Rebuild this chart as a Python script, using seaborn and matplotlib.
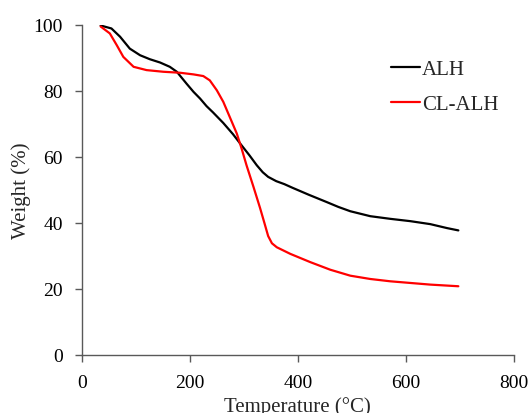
import matplotlib.pyplot as plt
import seaborn as sns
import pandas as pd
import numpy as np

# TGA curves
alh_temp = [35, 55, 71, 89, 108, 126, 145, 163, 176, 194, 207, 219, 231, 243, 262, 280, 296, 310, 324,
            335, 345, 360, 375, 390, 420, 453, 475, 497, 534, 571, 608, 645, 676, 697]
alh_weight = [99.7, 98.8, 96.3, 92.7, 90.7, 89.5, 88.5, 87.2, 85.7, 82.1, 79.6, 77.6, 75.3, 73.4, 70.2, 66.8, 63.4, 60.5, 57.4,
              55.3, 53.9, 52.6, 51.7, 50.6, 48.5, 46.3, 44.8, 43.5, 42.0, 41.2, 40.5, 39.6, 38.4, 37.7]

cl_temp = [35, 52, 65, 77, 96, 120, 151, 182, 207, 225, 237, 250, 262, 274, 287, 296, 305, 318,
           330, 338, 345, 352, 361, 386, 423, 460, 497, 534, 571, 608, 645, 697]
cl_weight = [99.4, 97.3, 93.7, 90.2, 87.2, 86.2, 85.7, 85.4, 84.9, 84.4, 83.1, 80.1, 76.6, 72.0, 67.0, 62.4, 57.4, 50.8,
             44.5, 40.0, 36.0, 33.8, 32.6, 30.6, 28.1, 25.8, 24.0, 23.0, 22.3, 21.8, 21.3, 20.8]

df = pd.concat([
    pd.DataFrame({"temp": alh_temp, "weight": alh_weight, "sample": "ALH"}),
    pd.DataFrame({"temp": cl_temp, "weight": cl_weight, "sample": "CL-ALH"}),
])

sns.set_style("ticks")
plt.rcParams['font.family'] = ['Liberation Serif', 'DejaVu Serif']

fig = plt.figure(figsize=(5.31, 4.14), dpi=100)
ax = fig.add_axes([0.1539, 0.1401, 0.8141, 0.7983])

sns.lineplot(data=df, x="temp", y="weight", hue="sample", sort=False,
             palette={"ALH": "black", "CL-ALH": "#ff0000"}, linewidth=1.6, ax=ax)

ax.set_xlim(0, 800)
ax.set_ylim(0, 100)
ax.set_xticks([0, 200, 400, 600, 800])
ax.set_yticks([0, 20, 40, 60, 80, 100])
ax.tick_params(labelsize=14, colors="black", length=5, width=1, color="#595959", pad=8.5)
for s in ["left", "bottom"]:
    ax.spines[s].set_color("#595959")
    ax.spines[s].set_linewidth(1)
sns.despine(ax=ax)

ax.set_xlabel("Temperature (°C)", fontsize=15, labelpad=4)
ax.set_ylabel("Weight (%)", fontsize=15, labelpad=2)

ax.legend(frameon=False, fontsize=15, loc="upper left", bbox_to_anchor=(0.672, 0.95),
          handlelength=1.39, handletextpad=0.1, labelspacing=0.72)

fig.savefig("out.png", dpi=100)
